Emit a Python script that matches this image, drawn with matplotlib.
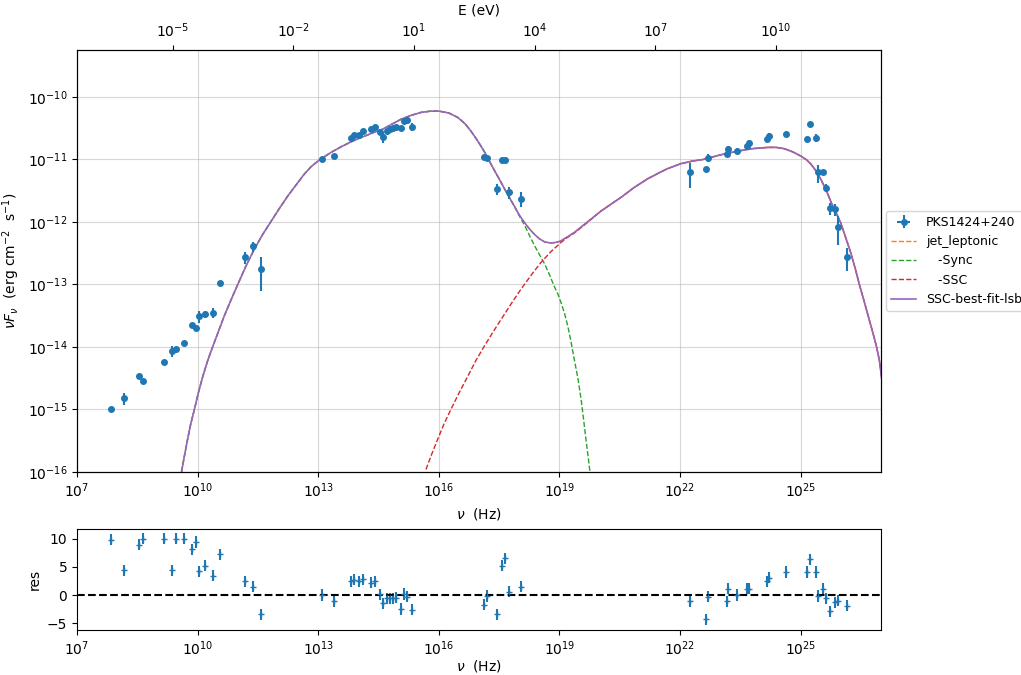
import numpy as np
import matplotlib
matplotlib.use("Agg")
import matplotlib.pyplot as plt
from matplotlib.ticker import NullLocator

# --- data (log10 values) ---
nu_log = [7.85, 8.16, 8.55, 8.65, 9.17, 9.36, 9.46, 9.66, 9.87, 9.96, 10.04, 10.18, 10.38, 10.56, 11.18, 11.38, 11.58,
          13.09, 13.40, 13.82, 13.90, 14.01, 14.11, 14.31, 14.41, 14.53, 14.60, 14.71, 14.79, 14.86, 14.94, 15.06,
          15.13, 15.21, 15.33,
          17.13, 17.20, 17.46, 17.56, 17.65, 17.75, 18.05,
          22.26, 22.65, 22.70, 23.16, 23.20, 23.42, 23.67, 23.72, 24.16, 24.22, 24.64, 25.16, 25.23, 25.38, 25.43,
          25.55, 25.63, 25.74, 25.85, 25.93, 26.15]
flux_log = [-15.0, -14.82, -14.47, -14.54, -14.24, -14.07, -14.03, -13.93, -13.65, -13.69, -13.51, -13.48, -13.45,
            -12.97, -12.57, -12.39, -12.76,
            -11.0, -10.95, -10.66, -10.61, -10.61, -10.54, -10.52, -10.49, -10.57, -10.64, -10.54, -10.52, -10.50,
            -10.49, -10.50, -10.39, -10.37, -10.48,
            -10.96, -10.98, -11.48, -11.01, -11.01, -11.53, -11.63,
            -11.21, -11.15, -10.98, -10.92, -10.83, -10.86, -10.78, -10.74, -10.68, -10.62, -10.59, -10.68, -10.44,
            -10.66, -11.21, -11.21, -11.46, -11.78, -11.80, -12.08, -12.56]
# relative flux errors
flux_relerr = [0.05, 0.22, 0.05, 0.05, 0.05, 0.2, 0.05, 0.05, 0.05, 0.05, 0.22, 0.12, 0.18, 0.05, 0.22, 0.18, 0.55,
               0.05, 0.05, 0.05, 0.05, 0.05, 0.05, 0.05, 0.05, 0.08, 0.2, 0.05, 0.05, 0.05, 0.05, 0.05, 0.05, 0.05,
               0.15,
               0.05, 0.05, 0.2, 0.03, 0.03, 0.2, 0.27,
               0.43, 0.05, 0.15, 0.08, 0.1, 0.08, 0.08, 0.1, 0.06, 0.08, 0.08, 0.08, 0.08, 0.15, 0.33, 0.1, 0.15,
               0.22, 0.22, 0.48, 0.4]
residuals = [9.8, 4.4, 8.9, 10.0, 10.0, 4.4, 10.0, 10.0, 8.1, 9.4, 4.2, 5.2, 3.4, 7.2, 2.4, 1.5, -3.4,
             0.0, -1.1, 2.4, 2.7, 2.4, 2.8, 2.2, 2.4, 0.1, -1.5, -0.6, -0.6, -0.6, -0.5, -2.5, 0.2, -0.3, -2.6,
             -1.7, -0.2, -3.4, 5.2, 6.5, 0.6, 1.5,
             -1.1, -4.3, -0.3, -1.1, 1.1, 0.0, 1.1, 1.1, 2.4, 3.1, 4.1, 4.1, 6.3, 4.1, -0.2, 1.1, -0.6, -2.9, -1.3,
             -1.0, -1.9]

# model curves (log10 nu, log10 nuFnu)
total_nu_log = [9.60, 9.67, 9.75, 9.83, 9.92, 10.02, 10.13, 10.25, 10.38, 10.52, 10.66, 10.83, 11.0, 11.2, 11.41,
                11.62, 11.83, 12.04, 12.24, 12.45, 12.65, 12.82, 12.99, 13.15, 13.32, 13.57, 13.82, 14.03, 14.23,
                14.42, 14.60, 14.83, 15.06, 15.30, 15.56, 15.80, 16.01, 16.25, 16.47, 16.65, 16.80, 16.93, 17.05,
                17.18, 17.30, 17.42, 17.55, 17.70, 17.88, 18.0, 18.13, 18.25, 18.38, 18.50, 18.63, 18.79, 18.90,
                19.02, 19.2, 19.37, 19.7, 20.03, 20.3, 20.53, 20.86, 21.2, 21.5, 21.69, 22.02, 22.3, 22.6, 23.0,
                23.43, 23.8, 24.18, 24.4, 24.59, 24.8, 25.01, 25.15, 25.26, 25.4, 25.51, 25.64, 25.76, 25.88, 26.0,
                26.12, 26.25, 26.36, 26.46, 26.58, 26.70, 26.80, 26.89, 26.96, 27.02]
total_flux_log = [-16.0, -15.75, -15.48, -15.23, -15.0, -14.73, -14.47, -14.22, -13.99, -13.75, -13.51, -13.25,
                  -13.0, -12.71, -12.44, -12.2, -11.99, -11.78, -11.59, -11.41, -11.24, -11.12, -11.03, -10.96,
                  -10.89, -10.80, -10.72, -10.66, -10.61, -10.56, -10.52, -10.44, -10.36, -10.30, -10.25, -10.23,
                  -10.23, -10.26, -10.33, -10.43, -10.55, -10.67, -10.79, -10.93, -11.08, -11.22, -11.37, -11.55,
                  -11.75, -11.89, -12.01, -12.11, -12.20, -12.27, -12.32, -12.34, -12.33, -12.31, -12.24, -12.17,
                  -12.0, -11.83, -11.71, -11.61, -11.45, -11.31, -11.21, -11.15, -11.07, -11.03, -11.0, -10.93,
                  -10.87, -10.83, -10.81, -10.81, -10.83, -10.88, -10.95, -11.01, -11.08, -11.2, -11.33, -11.5,
                  -11.69, -11.85, -12.02, -12.25, -12.5, -12.75, -13.0, -13.27, -13.55, -13.78, -14.0, -14.22,
                  -14.52]
# synchrotron tail, after it leaves the total curve
sync_tail_nu_log = [18.0, 18.13, 18.25, 18.38, 18.50, 18.63, 18.75, 18.87, 18.96, 19.04, 19.13, 19.21, 19.29,
                    19.37, 19.46, 19.54, 19.60, 19.66, 19.71, 19.76]
sync_tail_flux_log = [-11.90, -12.05, -12.21, -12.38, -12.52, -12.67, -12.84, -13.03, -13.15, -13.29, -13.47,
                      -13.67, -13.92, -14.2, -14.5, -14.84, -15.15, -15.48, -15.73, -16.0]
# SSC rise, before it joins the total curve
ssc_head_nu_log = [15.68, 15.82, 15.97, 16.13, 16.30, 16.5, 16.72, 16.92, 17.13, 17.34, 17.55, 17.8, 18.04, 18.3,
                   18.54, 18.8, 19.04, 19.2, 19.37, 19.7]
ssc_head_flux_log = [-15.96, -15.72, -15.48, -15.23, -15.0, -14.74, -14.47, -14.22, -13.99, -13.77, -13.56,
                     -13.31, -13.08, -12.85, -12.65, -12.47, -12.33, -12.25, -12.18, -12.01]

h_eV = 4.135667e-15

nu = 10 ** np.array(nu_log)
flux = 10 ** np.array(flux_log)
flux_err = flux * np.array(flux_relerr)

tot_x = np.array(total_nu_log)
tot_y = np.array(total_flux_log)
sync_x = np.concatenate([tot_x[tot_x <= 17.88], sync_tail_nu_log])
sync_y = np.concatenate([tot_y[tot_x <= 17.88], sync_tail_flux_log])
ssc_x = np.concatenate([ssc_head_nu_log, tot_x[tot_x >= 20.03]])
ssc_y = np.concatenate([ssc_head_flux_log, tot_y[tot_x >= 20.03]])

fig = plt.figure(figsize=(10.21, 6.75), dpi=100)
ax = fig.add_axes([0.0754, 0.3007, 0.7875, 0.6253])
ax_res = fig.add_axes([0.0754, 0.0667, 0.7875, 0.1496])

h_data = ax.errorbar(nu, flux, yerr=flux_err, xerr=np.zeros_like(nu), fmt='o', ms=4, color='tab:blue',
                     label='PKS1424+240', zorder=3)
h_jet, = ax.plot(10 ** tot_x, 10 ** tot_y, '--', color='tab:orange', lw=1, label='jet_leptonic')
h_sync, = ax.plot(10 ** sync_x, 10 ** sync_y, '--', color='tab:green', lw=1, label='   -Sync')
h_ssc, = ax.plot(10 ** ssc_x, 10 ** ssc_y, '--', color='tab:red', lw=1, label='   -SSC')
h_fit, = ax.plot(10 ** tot_x, 10 ** tot_y, '-', color='tab:purple', lw=1.2, label='SSC-best-fit-lsb')

ax.set_xscale('log')
ax.set_yscale('log')
ax.set_xlim(1e7, 1e27)
ax.set_ylim(1e-16, 5.6e-10)
ax.set_xticks([1e7, 1e10, 1e13, 1e16, 1e19, 1e22, 1e25])
ax.set_yticks([1e-16, 1e-15, 1e-14, 1e-13, 1e-12, 1e-11, 1e-10])
ax.xaxis.set_minor_locator(NullLocator())
ax.yaxis.set_minor_locator(NullLocator())
ax.grid(True, alpha=0.5)
ax.set_xlabel(r'$\nu$  (Hz)')
ax.set_ylabel(r'$\nu F_{\nu}$  (erg cm$^{-2}$  s$^{-1}$)')
ax.legend(handles=[h_data, h_jet, h_sync, h_ssc, h_fit], loc='center left', bbox_to_anchor=(1.0, 0.5),
          fontsize=9, borderaxespad=0.4)

ax_top = ax.twiny()
ax_top.set_xscale('log')
ax_top.set_xlim(1e7 * h_eV, 1e27 * h_eV)
ax_top.set_xticks([1e-5, 1e-2, 1e1, 1e4, 1e7, 1e10])
ax_top.xaxis.set_minor_locator(NullLocator())
ax_top.set_xlabel('E (eV)', labelpad=5)

ax_res.errorbar(nu, residuals, yerr=1, fmt='+', ms=5, color='tab:blue')
ax_res.axhline(0, color='k', ls='--', lw=1.5)
ax_res.set_xscale('log')
ax_res.set_xlim(1e7, 1e27)
ax_res.set_ylim(-6.2, 11.7)
ax_res.set_xticks([1e7, 1e10, 1e13, 1e16, 1e19, 1e22, 1e25])
ax_res.xaxis.set_minor_locator(NullLocator())
ax_res.set_yticks([-5, 0, 5, 10])
ax_res.set_xlabel(r'$\nu$  (Hz)', labelpad=0)
ax_res.set_ylabel('res')

fig.savefig('out.png', dpi=100)
